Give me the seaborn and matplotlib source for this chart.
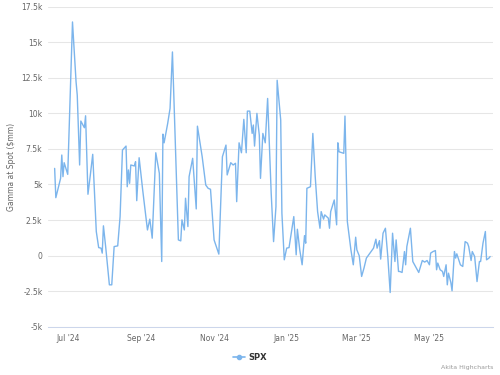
import pandas as pd
import matplotlib
matplotlib.use("Agg")
import matplotlib.pyplot as plt
import matplotlib.dates as mdates
from matplotlib.ticker import FuncFormatter, MultipleLocator
from matplotlib.lines import Line2D
import seaborn as sns

# SPX gamma at spot ($mm)
dates = [
    "2024-06-20", "2024-06-21", "2024-06-25", "2024-06-26", "2024-06-27", "2024-06-28",
    "2024-07-01", "2024-07-05", "2024-07-08", "2024-07-09", "2024-07-11", "2024-07-12",
    "2024-07-15", "2024-07-16", "2024-07-18", "2024-07-20", "2024-07-22", "2024-07-25",
    "2024-07-27", "2024-07-29", "2024-07-30", "2024-07-31", "2024-08-02", "2024-08-05",
    "2024-08-07", "2024-08-09", "2024-08-12", "2024-08-14", "2024-08-16", "2024-08-19",
    "2024-08-20", "2024-08-21", "2024-08-22", "2024-08-23", "2024-08-26", "2024-08-27",
    "2024-08-28", "2024-08-30", "2024-09-02", "2024-09-06", "2024-09-08", "2024-09-10",
    "2024-09-13", "2024-09-16", "2024-09-18", "2024-09-19", "2024-09-20", "2024-09-23",
    "2024-09-25", "2024-09-27", "2024-10-02", "2024-10-04", "2024-10-05", "2024-10-07",
    "2024-10-08", "2024-10-10", "2024-10-11", "2024-10-14", "2024-10-17", "2024-10-18",
    "2024-10-22", "2024-10-25", "2024-10-27", "2024-10-29", "2024-11-01", "2024-11-05",
    "2024-11-08", "2024-11-11", "2024-11-12", "2024-11-15", "2024-11-17", "2024-11-19",
    "2024-11-20", "2024-11-22", "2024-11-24", "2024-11-26", "2024-11-28", "2024-11-29",
    "2024-12-01", "2024-12-03", "2024-12-04", "2024-12-05", "2024-12-07", "2024-12-09",
    "2024-12-10", "2024-12-12", "2024-12-14", "2024-12-16", "2024-12-19", "2024-12-21",
    "2024-12-23", "2024-12-24", "2024-12-27", "2024-12-28", "2024-12-30", "2025-01-01",
    "2025-01-03", "2025-01-07", "2025-01-09", "2025-01-10", "2025-01-12", "2025-01-14",
    "2025-01-16", "2025-01-17", "2025-01-18", "2025-01-21", "2025-01-23", "2025-01-25",
    "2025-01-27", "2025-01-29", "2025-01-30", "2025-02-01", "2025-02-02", "2025-02-05",
    "2025-02-06", "2025-02-07", "2025-02-10", "2025-02-12", "2025-02-13", "2025-02-14",
    "2025-02-18", "2025-02-19", "2025-02-21", "2025-02-24", "2025-02-26", "2025-02-28",
    "2025-03-01", "2025-03-03", "2025-03-05", "2025-03-07", "2025-03-09", "2025-03-12",
    "2025-03-14", "2025-03-15", "2025-03-17", "2025-03-18", "2025-03-20", "2025-03-21",
    "2025-03-23", "2025-03-25", "2025-03-27", "2025-03-29", "2025-03-31", "2025-04-02",
    "2025-04-03", "2025-04-05", "2025-04-06", "2025-04-08", "2025-04-10", "2025-04-11",
    "2025-04-12", "2025-04-15", "2025-04-17", "2025-04-20", "2025-04-22", "2025-04-25",
    "2025-04-27", "2025-04-29", "2025-05-01", "2025-05-02", "2025-05-04", "2025-05-06",
    "2025-05-07", "2025-05-08", "2025-05-10", "2025-05-12", "2025-05-13", "2025-05-15",
    "2025-05-16", "2025-05-17", "2025-05-19", "2025-05-20", "2025-05-22", "2025-05-23",
    "2025-05-24", "2025-05-27", "2025-05-29", "2025-05-31", "2025-06-02", "2025-06-03",
    "2025-06-05", "2025-06-06", "2025-06-08", "2025-06-10", "2025-06-12", "2025-06-13",
    "2025-06-15", "2025-06-17", "2025-06-18", "2025-06-20", "2025-06-21",
]
gamma = [
    6130, 4070, 5430, 7070, 5550, 6530,
    5710, 16430, 12220, 11280, 6370, 9460,
    8990, 9830, 4310, 5670, 7120, 1690,
    560, 520, 170, 2090, 520, -2060,
    -2060, 630, 680, 2740, 7420, 7700,
    4840, 6020, 5080, 6370, 6300, 6600,
    3860, 6880, 4610, 1800, 2560, 1220,
    7230, 5780, -420, 8540, 7930, 9290,
    10350, 14320, 1100, 1030, 2510, 1800,
    4030, 2040, 5550, 6840, 3280, 9100,
    6950, 4960, 4730, 4660, 1100, 100,
    6950, 7770, 5670, 6530, 6370, 6490,
    3790, 7930, 7230, 9580, 7230, 10160,
    10160, 8590, 9180, 7700, 10000, 8470,
    5430, 8590, 7930, 11050, 4380, 980,
    3440, 12330, 9530, 2980, -300, 520,
    560, 2740, 50, 1850, 400, -650,
    1400, 870, 4730, 4840, 8590, 5550,
    3090, 1920, 3090, 2560, 2860, 2630,
    1920, 3090, 3910, 2160, 7930, 7300,
    7190, 9810, 2390, 400, -650, 1290,
    400, -20, -1470, -880, -180, 170,
    400, 520, 1150, 520, 1050, -250,
    1570, 1920, -70, -2600, 1570, -420,
    1100, -1120, -1120, -1190, 280, -650,
    630, 1920, -420, -880, -1190, -350,
    -460, -350, -650, 170, 280, 350,
    -1000, -530, -1000, -1120, -1470, -650,
    -2060, -1240, -1900, -2480, 280, -180,
    120, -650, -770, 980, 870, 630,
    -350, 280, -70, -1830, -420, -420,
    870, 1690, -300, -180, -70,
]

df = pd.DataFrame({"Date": pd.to_datetime(dates), "Gamma": gamma, "Series": "SPX"})

sns.set_style("white")
plt.rcParams["font.family"] = ["DejaVu Sans"]

line_color = "#7cb5ec"
fig = plt.figure(figsize=(5, 3.75), dpi=100)
ax = fig.add_axes([0.096, 0.129, 0.89, 0.853])

sns.lineplot(data=df, x="Date", y="Gamma", color=line_color, linewidth=1.0, ax=ax, legend=False)

# axes styling, Highcharts look
ax.set_ylim(-5000, 17500)
ax.set_xlim(pd.Timestamp("2024-06-14 10:00"), pd.Timestamp("2025-06-23 10:00"))
ax.yaxis.set_major_locator(MultipleLocator(2500))
ax.yaxis.set_major_formatter(FuncFormatter(lambda v, p: "0" if v == 0 else f"{v / 1000:g}k"))
ax.xaxis.set_major_locator(mdates.MonthLocator(bymonth=[1, 3, 5, 7, 9, 11]))
ax.xaxis.set_major_formatter(mdates.DateFormatter("%b '%y"))

ax.grid(axis="y", color="#e6e6e6", linewidth=0.75)
ax.set_axisbelow(True)
for side in ["top", "left", "right"]:
    ax.spines[side].set_visible(False)
ax.spines["bottom"].set_color("#ccd6eb")
ax.spines["bottom"].set_linewidth(0.75)

ax.tick_params(axis="y", length=0, pad=4, labelsize=5.5, labelcolor="#666666")
ax.tick_params(axis="x", length=3.5, width=0.75, color="#ccd6eb", pad=2,
               labelsize=5.5, labelcolor="#666666")

ax.set_xlabel("")
ax.set_ylabel("Gamma at Spot (\\$mm)", fontsize=5.5, color="#666666", labelpad=4)

# legend and credits
handle = Line2D([0], [0], color=line_color, linewidth=1.2, marker="o", markersize=3)
fig.legend([handle], ["SPX"], loc="center", bbox_to_anchor=(0.5, 0.048), frameon=False,
           prop={"size": 6, "weight": "bold"}, labelcolor="#333333",
           handlelength=1.4, handletextpad=0.4)
fig.text(0.986, 0.013, "Akita Highcharts", ha="right", va="bottom", fontsize=4.5, color="#999999")

plt.savefig("out.png", dpi=100)
plt.close()
